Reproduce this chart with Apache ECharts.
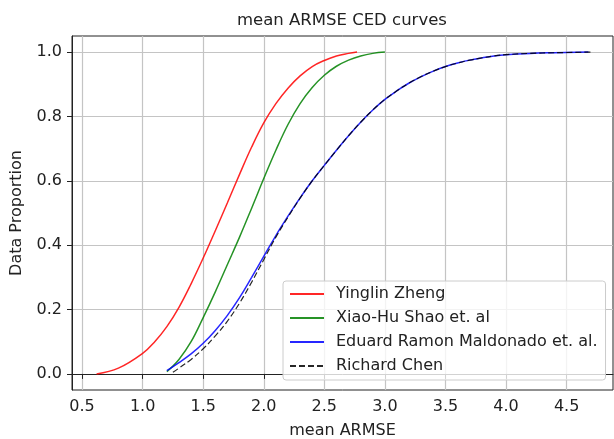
<!DOCTYPE html>
<html>
<head>
<meta charset="utf-8">
<script src="https://cdn.jsdelivr.net/npm/echarts@6/dist/echarts.min.js"></script>
<style>
    html, body { margin: 0; padding: 0; background: #fff; }
    #ced_curve { width: 614px; height: 439px; }
</style>
</head>
<body>
<div id="ced_curve"></div>
<script>
// CED curve data
var zhengX = [0.62, 0.8, 1.0, 1.1, 1.2, 1.3, 1.4, 1.5, 1.6, 1.7, 1.8, 1.9, 2.0, 2.1, 2.2, 2.3, 2.4, 2.5, 2.6, 2.7, 2.77];
var zhengY = [0.0, 0.018, 0.064, 0.1, 0.147, 0.207, 0.28, 0.36, 0.445, 0.532, 0.62, 0.705, 0.78, 0.84, 0.888, 0.926, 0.955, 0.974, 0.988, 0.996, 1.0];

var shaoX = [1.2, 1.3, 1.4, 1.5, 1.6, 1.7, 1.8, 1.9, 2.0, 2.1, 2.2, 2.3, 2.4, 2.5, 2.6, 2.7, 2.8, 2.9, 3.0];
var shaoY = [0.007, 0.045, 0.1, 0.175, 0.255, 0.34, 0.425, 0.515, 0.607, 0.695, 0.775, 0.84, 0.89, 0.928, 0.956, 0.975, 0.988, 0.996, 1.0];

var maldonadoX = [1.2, 1.3, 1.4, 1.5, 1.6, 1.7, 1.8, 1.9, 2.0, 2.1, 2.2, 2.3, 2.4, 2.5, 2.6, 2.7, 2.8, 2.9, 3.0, 3.1, 3.2, 3.3, 3.4, 3.5, 3.6, 3.7, 3.8, 3.9, 4.0, 4.2, 4.4, 4.68];
var maldonadoY = [0.01, 0.035, 0.062, 0.095, 0.135, 0.182, 0.237, 0.3, 0.365, 0.43, 0.49, 0.547, 0.6, 0.648, 0.695, 0.74, 0.782, 0.82, 0.853, 0.88, 0.904, 0.924, 0.941, 0.955, 0.966, 0.975, 0.982, 0.988, 0.992, 0.996, 0.998, 1.0];

var chenX = [1.25, 1.3, 1.4, 1.5, 1.6, 1.7, 1.8, 1.9, 2.0, 2.1, 2.2, 2.3, 2.4, 2.5, 2.6, 2.7, 2.8, 2.9, 3.0, 3.1, 3.2, 3.3, 3.4, 3.5, 3.6, 3.7, 3.8, 3.9, 4.0, 4.2, 4.4, 4.7];
var chenY = [0.005, 0.018, 0.045, 0.078, 0.118, 0.164, 0.22, 0.285, 0.355, 0.425, 0.487, 0.546, 0.6, 0.648, 0.695, 0.74, 0.782, 0.82, 0.853, 0.88, 0.904, 0.924, 0.941, 0.955, 0.966, 0.975, 0.982, 0.988, 0.992, 0.996, 0.998, 1.0];

var xTicks = [0.5, 1.0, 1.5, 2.0, 2.5, 3.0, 3.5, 4.0, 4.5];
var yTicks = [0.0, 0.2, 0.4, 0.6, 0.8, 1.0];

function pairs(xs, ys) {
    var out = [];
    for (var i = 0; i < xs.length; i++) {
        out.push([xs[i], ys[i]]);
    }
    return out;
}

var font = 'DejaVu Sans';
var ink = '#222';
var labelSize = 16;

var myChart = echarts.init(document.getElementById('ced_curve'));
myChart.setOption({
    animation : false,
    title : {
        text : 'mean ARMSE CED curves',
        left : 237,
        top : 12,
        padding : 0,
        textStyle : { fontFamily : font, fontSize : 16.5, fontWeight : 'normal', color : ink }
    },
    legend : {
        orient : 'vertical',
        left : 283,
        top : 281,
        padding : [5, 8, 6, 6],
        itemGap : 8,
        itemWidth : 34,
        itemHeight : 16,
        backgroundColor : 'rgba(255,255,255,0.8)',
        borderColor : '#cccccc',
        borderWidth : 1,
        borderRadius : 3,
        itemStyle : { opacity : 0 },
        textStyle : { fontFamily : font, fontSize : labelSize, lineHeight : 16, color : ink, padding : [0, 0, 0, 7] },
        data : ['Yinglin Zheng', 'Xiao-Hu Shao et. al', 'Eduard Ramon Maldonado et. al.', 'Richard Chen']
    },
    grid : {
        left : 72,
        right : 1,
        top : 36,
        bottom : 49,
        containLabel : false,
        outerBoundsMode : 'none',
        show : true,
        borderColor : ink,
        borderWidth : 1
    },
    xAxis : {
        type : 'value',
        min : 0.417,
        max : 4.883,
        name : 'mean ARMSE',
        nameLocation : 'middle',
        nameGap : 33,
        nameTextStyle : { fontFamily : font, fontSize : labelSize, color : ink },
        axisLine : { show : true, lineStyle : { color : ink } },
        axisTick : { show : true, length : 5, lineStyle : { color : ink }, customValues : xTicks },
        axisLabel : {
            fontFamily : font, fontSize : labelSize, color : ink, margin : 9,
            customValues : xTicks,
            formatter : function (v) { return v.toFixed(1); }
        },
        splitLine : { show : true, lineStyle : { color : '#c4c4c4', width : 1.2 } }
    },
    yAxis : {
        type : 'value',
        min : -0.05,
        max : 1.05,
        name : 'Data Proportion',
        nameLocation : 'middle',
        nameGap : 47,
        nameTextStyle : { fontFamily : font, fontSize : labelSize, color : ink },
        axisLine : { show : true, lineStyle : { color : ink } },
        axisTick : { show : true, length : 5, lineStyle : { color : ink }, customValues : yTicks },
        axisLabel : {
            fontFamily : font, fontSize : labelSize, color : ink, margin : 10,
            customValues : yTicks,
            formatter : function (v) { return v.toFixed(1); }
        },
        splitLine : { show : true, lineStyle : { color : '#c4c4c4', width : 1.2 } }
    },
    series : [
        {
            name : 'Yinglin Zheng',
            type : 'line',
            smooth : 0.4,
            symbol : 'none',
            color : '#ff0000',
            lineStyle : { color : '#ff0000', width : 1.5, opacity : 0.85 },
            data : pairs(zhengX, zhengY)
        },
        {
            name : 'Xiao-Hu Shao et. al',
            type : 'line',
            smooth : 0.4,
            symbol : 'none',
            color : '#008000',
            lineStyle : { color : '#008000', width : 1.5, opacity : 0.85 },
            data : pairs(shaoX, shaoY)
        },
        {
            name : 'Eduard Ramon Maldonado et. al.',
            type : 'line',
            smooth : 0.4,
            symbol : 'none',
            color : '#0000ff',
            lineStyle : { color : '#0000ff', width : 1.5, opacity : 0.85 },
            data : pairs(maldonadoX, maldonadoY)
        },
        {
            name : 'Richard Chen',
            type : 'line',
            smooth : 0.4,
            symbol : 'none',
            color : '#000000',
            lineStyle : { color : '#000000', width : 1.2, type : [6, 3], opacity : 0.85 },
            data : pairs(chenX, chenY)
        }
    ]
});
</script>
</body>
</html>
